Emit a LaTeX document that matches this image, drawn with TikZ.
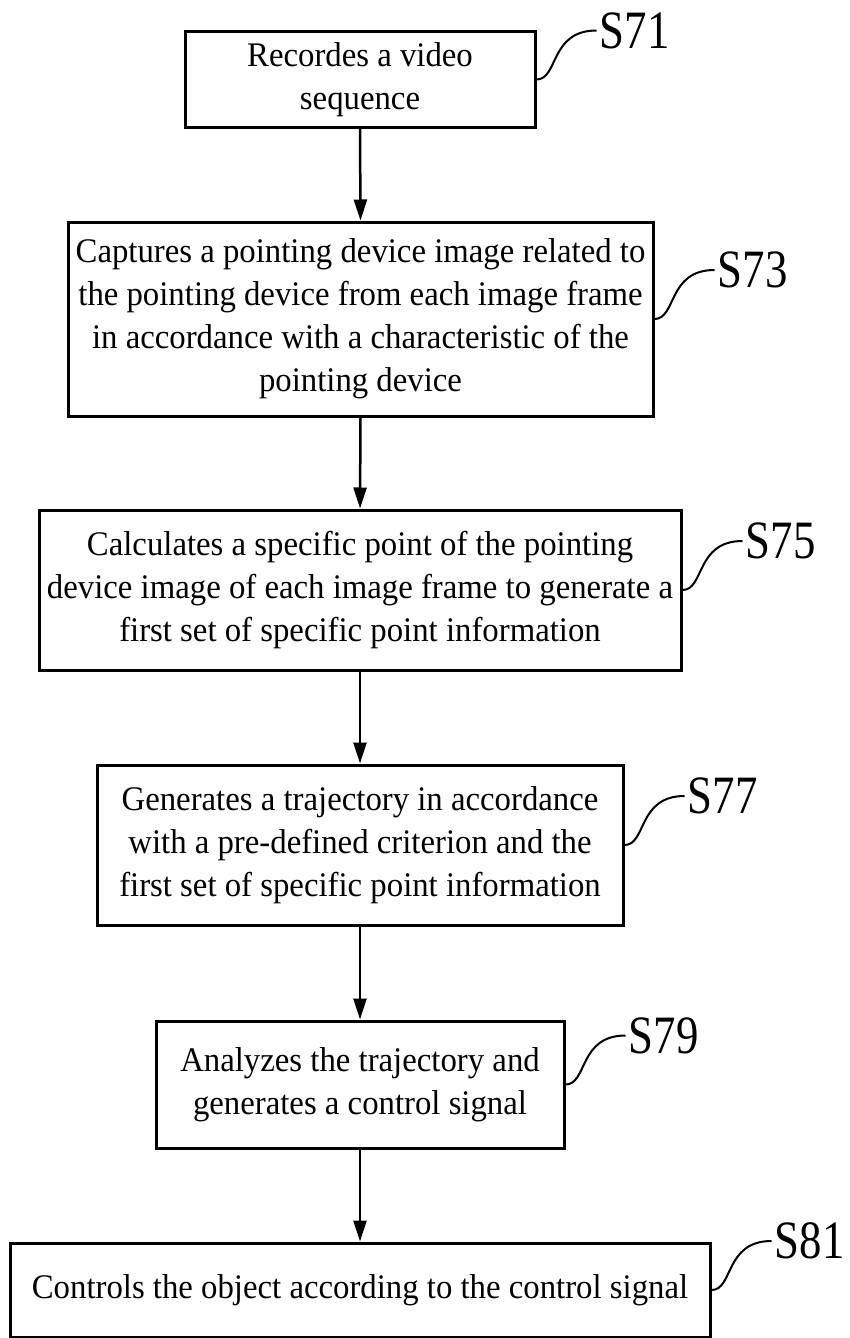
\documentclass[tikz,border=0pt]{standalone}
\usepackage{fontspec}
\setmainfont{Liberation Serif}[FakeStretch=0.95]
\newfontfamily\labfont{Liberation Serif}[FakeStretch=0.83]
\usetikzlibrary{arrows.meta}
\begin{document}
\begin{tikzpicture}[x=1pt,y=-1pt,
  stepbox/.style={draw, line width=3pt, align=center, inner sep=2pt, font=\fontsize{34.5}{43}\selectfont},
  flow/.style={line width=2.5pt, -{Triangle[length=21pt,width=13pt]}},
  leader/.style={line width=2pt},
  lab/.style={anchor=west, inner sep=3pt, font=\labfont\fontsize{54}{54}\selectfont}]
\fill[white] (0,0) rectangle (849,1338);
\useasboundingbox (0,0) rectangle (849,1338);

\node[stepbox, minimum width=350pt, minimum height=95pt] (s71) at (360,79.5) {Recordes a video\\sequence};
\node[stepbox, minimum width=585pt, minimum height=194pt] (s73) at (360.5,319) {Captures a pointing device image related to\\the pointing device from each image frame\\in accordance with a characteristic of the\\pointing device};
\node[stepbox, minimum width=642pt, minimum height=160pt] (s75) at (360,590) {Calculates a specific point of the pointing\\device image of each image frame to generate a\\first set of specific point information};
\node[stepbox, minimum width=526pt, minimum height=160pt] (s77) at (360,845) {Generates a trajectory in accordance\\with a pre-defined criterion and the\\first set of specific point information};
\node[stepbox, minimum width=408pt, minimum height=127pt] (s79) at (360,1084.5) {Analyzes the trajectory and\\generates a control signal};
\node[stepbox, minimum width=700pt, minimum height=94pt] (s81) at (360,1290) {Controls the object according to the control signal};

\draw[flow] (s71.south) -- (s73.north);
\draw[flow] (s73.south) -- (s75.north);
\draw[flow] (s75.south) -- (s77.north);
\draw[flow] (s77.south) -- (s79.north);
\draw[flow] (s79.south) -- (s81.north);

\foreach \s in {71,73,75,77,79,81}{
  \node[lab] (t\s) at ([shift={(60,-49)}]s\s.east) {S\s};
  \draw[leader] (s\s.east) .. controls +(22,0) and +(-47,0) .. (t\s.west);
}
\end{tikzpicture}
\end{document}
